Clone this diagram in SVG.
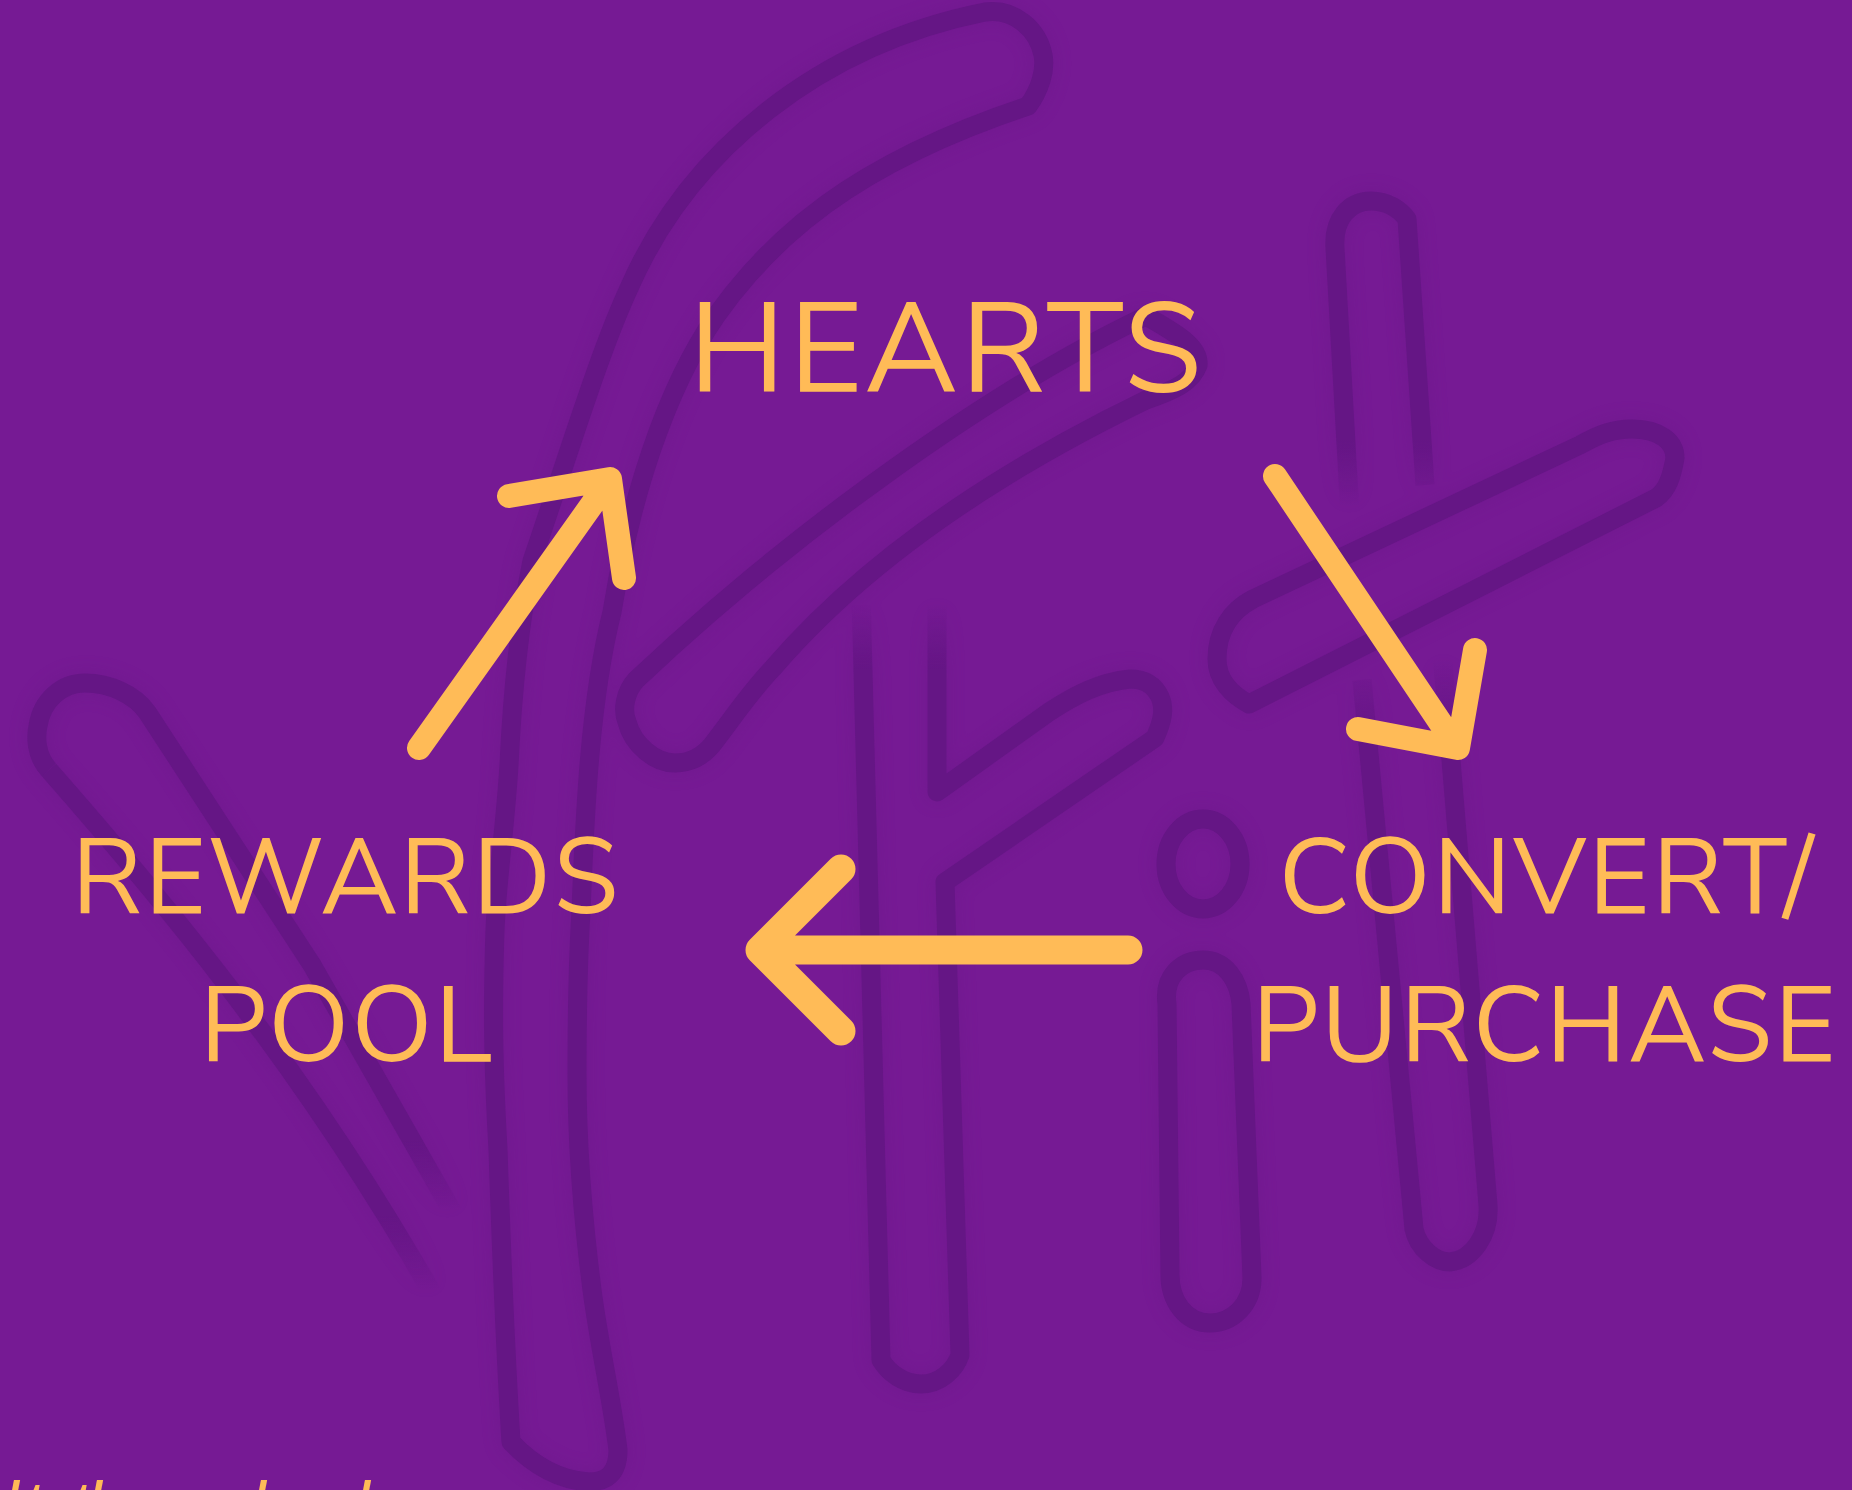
<svg xmlns="http://www.w3.org/2000/svg" width="1852" height="1490" viewBox="0 0 1852 1490">
<style>
.bg{fill:#761a94}
.g{fill:none;stroke:#651685;stroke-width:19;stroke-linejoin:round;stroke-linecap:butt}
.t{font-family:"Nunito Sans","Nunito","Noto Sans",sans-serif;font-size:106px;fill:#ffbb57;text-anchor:middle;font-weight:400;letter-spacing:2px}
.a{fill:none;stroke:#ffbb57;stroke-width:24;stroke-linecap:round;stroke-linejoin:round}
.c{font-family:"Liberation Sans",sans-serif;font-style:italic;font-size:70px;fill:#ffbb57}
</style>
<defs>
<filter id="soft" x="-10%" y="-10%" width="120%" height="120%" color-interpolation-filters="sRGB">
<feGaussianBlur in="SourceGraphic" stdDeviation="9" result="b"/>
<feComponentTransfer in="b" result="h"><feFuncA type="linear" slope="0.35"/></feComponentTransfer>
<feMerge><feMergeNode in="h"/><feMergeNode in="SourceGraphic"/></feMerge>
</filter>
<linearGradient id="fadeStem" gradientUnits="userSpaceOnUse" x1="0" y1="440" x2="0" y2="505"><stop offset="0" stop-color="#651685"/><stop offset="1" stop-color="#651685" stop-opacity="0"/></linearGradient>
<linearGradient id="fadeLow" gradientUnits="userSpaceOnUse" x1="0" y1="660" x2="0" y2="745"><stop offset="0" stop-color="#651685" stop-opacity="0"/><stop offset="1" stop-color="#651685"/></linearGradient>
<linearGradient id="fadeF" gradientUnits="userSpaceOnUse" x1="0" y1="605" x2="0" y2="670"><stop offset="0" stop-color="#651685" stop-opacity="0"/><stop offset="1" stop-color="#651685"/></linearGradient>
<linearGradient id="fadeA" gradientUnits="userSpaceOnUse" x1="0" y1="1140" x2="0" y2="1210"><stop offset="0" stop-color="#651685"/><stop offset="1" stop-color="#651685" stop-opacity="0"/></linearGradient>
<linearGradient id="fadeB" gradientUnits="userSpaceOnUse" x1="0" y1="1215" x2="0" y2="1290"><stop offset="0" stop-color="#651685"/><stop offset="1" stop-color="#651685" stop-opacity="0"/></linearGradient>
</defs>
<rect class="bg" width="1852" height="1490"/>
<g id="background-letters" filter="url(#soft)">
<path class="g" d="M985 12C820 45 690 150 630 286C600 350 570 450 532 561C518 630 512 700 509 765C505 830 497 880 495 930C492 1020 494 1080 498 1150C502 1270 506 1360 511 1442C530 1462 555 1480 589 1482C605 1482 618 1475 618 1450C612 1400 600 1350 592 1290C583 1220 577 1150 577 1074C577 1010 578 960 581 911C585 810 590 700 612 612C630 500 665 390 716 316C770 240 850 165 1028 106C1040 90 1046 70 1043 55C1038 30 1015 8 985 12Z"/>
<path class="g" d="M1146 316C1000 385 800 525 636 680C625 692 622 710 627 722C633 745 655 763 675 763C690 763 702 757 712 745C735 715 750 692 773 668C840 590 950 495 1146 400C1175 390 1192 382 1198 365C1200 345 1170 330 1146 316"/>
<path class="g" style="stroke:url(#fadeStem)" d="M1350 515L1335 248C1333 218 1350 201 1371 201C1388 201 1400 210 1407 219L1425 485"/>
<path class="g" d="M1249 704C1232 695 1217 680 1217 659C1217 630 1232 610 1253 599L1580 445C1598 435 1612 429 1632 429C1660 429 1675 442 1675 458C1672 475 1668 490 1656 498Z"/>
<path class="g" style="stroke:url(#fadeLow)" d="M1362 680L1414 1229C1418 1248 1435 1262 1450 1262C1472 1260 1490 1235 1488 1205L1441 640"/>
<path class="g" style="stroke:url(#fadeF)" d="M861 595L881 1360C888 1372 903 1384 921 1384C940 1384 955 1370 960 1355L945 882L1155 738C1163 720 1165 708 1160 697C1153 682 1140 679 1130 679C1100 682 1075 695 1049 712L937 792L937 595"/>
<ellipse class="g" cx="1203" cy="864" rx="37" ry="45"/>
<path class="g" d="M1167 1004C1163 975 1183 960 1203 960C1225 960 1239 980 1241 1004L1252 1278C1252 1305 1232 1323 1210 1323C1185 1323 1170 1300 1170 1275Z"/>
<path class="g" style="stroke:url(#fadeA)" d="M49 770C35 755 36 735 38 726C42 700 62 683 85 683C110 683 135 695 147 712L312 965L460 1225"/>
<path class="g" style="stroke:url(#fadeB)" d="M49 770C150 885 300 1060 435 1298"/>
</g>
<g id="connectors">
<path class="a" d="M419 748L608 482M509 496L610 479L624 578"/>
<path class="a" d="M1275 476L1456 746M1358 729L1458 748L1475 650"/>
<path class="a" d="M1128 950H760M841 869L760 950L841 1031" style="stroke-width:29"/>
</g>
<g id="hearts"><text class="t" x="947" y="392" style="font-size:127px;letter-spacing:3.5px">HEARTS</text></g>
<g id="rewards-pool"><text class="t" x="346" y="913">REWARDS</text><text class="t" x="347" y="1061">POOL</text></g>
<g id="convert-purchase"><text class="t" x="1547" y="913">CONVERT/</text><text class="t" x="1545" y="1061">PURCHASE</text></g>
<g id="cut-text"><text class="c" x="3 23 70 86 250 354" y="1531">lttlll</text></g>
</svg>
